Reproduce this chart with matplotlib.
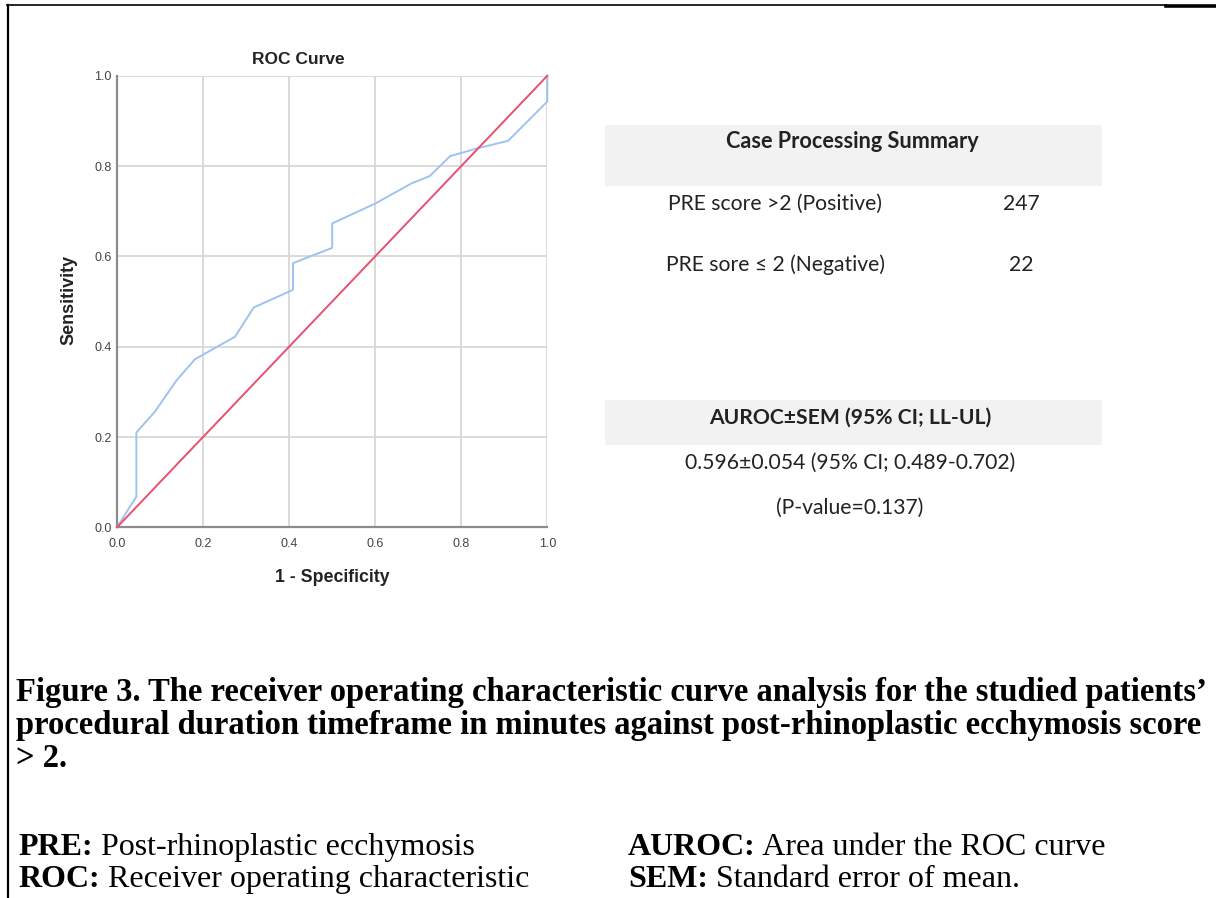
import matplotlib
matplotlib.use("Agg")
import matplotlib.pyplot as plt
from matplotlib.patches import Rectangle
from matplotlib.lines import Line2D

# ---- data ----
fpr = [0.0, 0.045, 0.045, 0.088, 0.138, 0.181, 0.231, 0.274, 0.318, 0.409, 0.409,
       0.500, 0.500, 0.600, 0.685, 0.727, 0.774, 0.836, 0.909, 1.0, 1.0]
tpr = [0.0, 0.068, 0.210, 0.256, 0.325, 0.372, 0.399, 0.422, 0.487, 0.526, 0.585,
       0.619, 0.673, 0.717, 0.762, 0.778, 0.822, 0.839, 0.856, 0.943, 1.0]
ref_line = [0.0, 1.0]
ticks = [0.0, 0.2, 0.4, 0.6, 0.8, 1.0]
tick_labels = ["0.0", "0.2", "0.4", "0.6", "0.8", "1.0"]

summary_title = "Case Processing Summary"
summary_rows = ["PRE score >2 (Positive)", "PRE sore \u2264 2 (Negative)"]
summary_counts = ["247", "22"]
auroc_title = "AUROC\u00b1SEM (95% CI; LL-UL)"
auroc_lines = ["0.596\u00b10.054 (95% CI; 0.489-0.702)", "(P-value=0.137)"]

caption_lines = [
    "Figure 3. The receiver operating characteristic curve analysis for the studied patients\u2019",
    "procedural duration timeframe in minutes against post-rhinoplastic ecchymosis score",
    "> 2.",
]
abbrev_left = [("PRE:", " Post-rhinoplastic ecchymosis"), ("ROC:", " Receiver operating characteristic")]
abbrev_right = [("AUROC:", " Area under the ROC curve"), ("SEM:", " Standard error of mean.")]

W, H = 1216, 898
fig = plt.figure(figsize=(W / 100, H / 100), dpi=100)
fig.patch.set_facecolor("white")

def fx(x):
    return x / W

def fy(y):
    return 1 - y / H

# ---- ROC axes ----
ax = fig.add_axes([fx(117), fy(527.3), fx(547.3) - fx(117), fy(75.8) - fy(527.3)])
ax.plot(fpr, tpr, color="#9ec3ef", lw=1.4, zorder=3, clip_on=False)
ax.plot(ref_line, ref_line, color="#e8506e", lw=1.4, zorder=3, clip_on=False)
ax.set_xlim(0, 1)
ax.set_ylim(0, 1)
ax.set_xticks(ticks)
ax.set_yticks(ticks)
ax.set_xticklabels(tick_labels, fontsize=9, color="#444444", family="Liberation Sans")
ax.set_yticklabels(tick_labels, fontsize=9, color="#444444", family="Liberation Sans")
ax.tick_params(axis="x", length=0, pad=7.5)
ax.tick_params(axis="y", length=0, pad=3.8)
ax.grid(True, color="#d4d4d4", lw=1.2)
ax.set_axisbelow(True)
for s in ["top", "right"]:
    ax.spines[s].set_visible(False)
for s in ["left", "bottom"]:
    ax.spines[s].set_color("#8c8c8c")
    ax.spines[s].set_linewidth(1.6)

fig.text(fx(298), fy(60), "ROC Curve", ha="center", va="center", fontsize=12.5,
         fontweight="bold", family="Liberation Sans", color="#222222")
fig.text(fx(332), fy(578), "1 - Specificity", ha="center", va="center", fontsize=12.8,
         fontweight="bold", family="Liberation Sans", color="#222222")
fig.text(fx(69), fy(300), "Sensitivity", ha="center", va="center", rotation=90, fontsize=13,
         fontweight="bold", family="Liberation Sans", color="#222222")

# ---- summary tables ----
band = "#f2f2f2"
fig.patches.append(Rectangle((fx(605), fy(186)), fx(1102) - fx(605), fy(125) - fy(186),
                             transform=fig.transFigure, facecolor=band, edgecolor="none"))
fig.patches.append(Rectangle((fx(605), fy(445)), fx(1102) - fx(605), fy(400) - fy(445),
                             transform=fig.transFigure, facecolor=band, edgecolor="none"))
tf = "Lato"
fs_t = 15.2
fig.text(fx(852), fy(142), summary_title, ha="center", va="center", fontsize=15.6,
         fontweight="bold", family=tf, color="#222222")
for yy, lab, cnt in zip([204, 265], summary_rows, summary_counts):
    fig.text(fx(775), fy(yy), lab, ha="center", va="center", fontsize=fs_t, family=tf, color="#222222")
    fig.text(fx(1021), fy(yy), cnt, ha="center", va="center", fontsize=fs_t, family=tf, color="#222222")
fig.text(fx(850), fy(418), auroc_title, ha="center", va="center", fontsize=fs_t,
         fontweight="bold", family=tf, color="#222222")
for yy, lab in zip([463, 508], auroc_lines):
    fig.text(fx(850), fy(yy), lab, ha="center", va="center", fontsize=fs_t, family=tf, color="#222222")

# ---- caption ----
sf = "Liberation Serif"
fs_c = 23.5
for yy, line in zip([701, 734, 767], caption_lines):
    fig.text(fx(16), fy(yy), line, ha="left", va="baseline", fontsize=fs_c,
             fontweight="bold", family=sf, color="black")

fs_a = 23.0
def abbrev(x, y, bold, rest):
    t = fig.text(fx(x), fy(y), bold, ha="left", va="baseline", fontsize=fs_a,
                 fontweight="bold", family=sf, color="black")
    fig.canvas.draw()
    bb = t.get_window_extent()
    fig.text(bb.x1 / W, fy(y), rest, ha="left", va="baseline", fontsize=fs_a,
             family=sf, color="black")

for yy, (b, r) in zip([855, 887], abbrev_left):
    abbrev(18, yy, b, r)
for yy, (b, r) in zip([855, 887], abbrev_right):
    abbrev(628, yy, b, r)

# ---- page border lines ----
fig.add_artist(Line2D([fx(7), fx(1166)], [fy(5), fy(5)], color="black", lw=1.2, transform=fig.transFigure))
fig.add_artist(Line2D([fx(1166), fx(1216)], [fy(5.5), fy(5.5)], color="black", lw=2.6, transform=fig.transFigure))
fig.add_artist(Line2D([fx(7.5), fx(7.5)], [fy(5), fy(898)], color="black", lw=1.6, transform=fig.transFigure))

fig.savefig("out.png", dpi=100)
